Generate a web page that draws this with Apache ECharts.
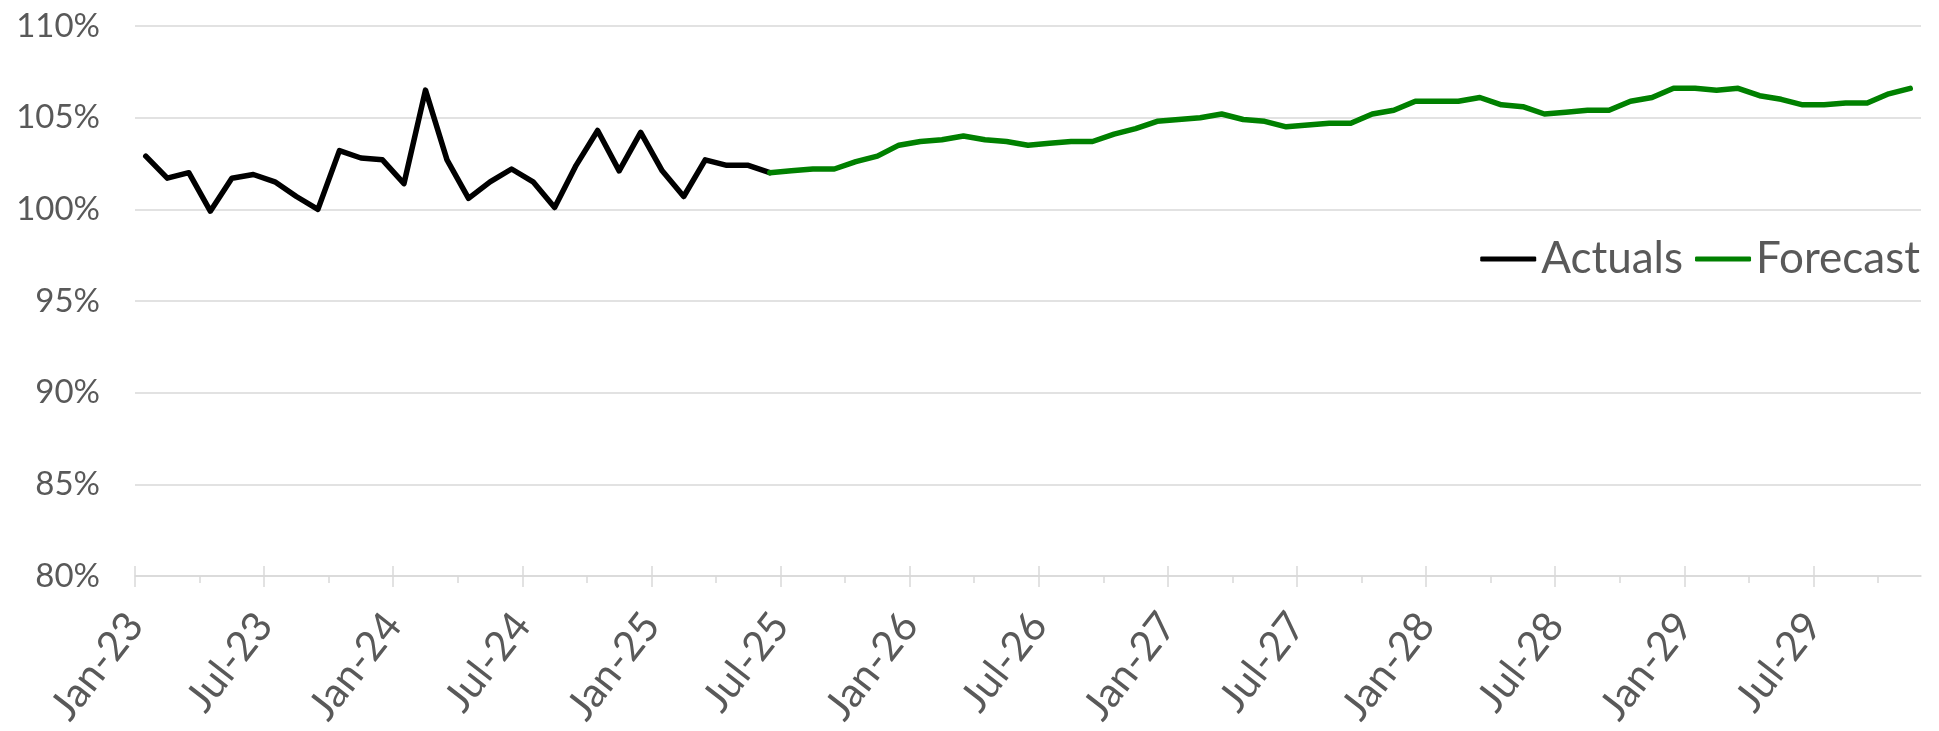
<!DOCTYPE html>
<html>
<head>
<meta charset="utf-8">
<title>Actuals vs Forecast</title>
<script src="https://cdn.jsdelivr.net/npm/echarts@6/dist/echarts.min.js"></script>
<style>
    html, body { margin: 0; padding: 0; background: #fff; }
    #chart { width: 1939px; height: 731px; }
</style>
</head>
<body>
<div id="chart"></div>
<script>
// 月度数据，第一个点是 Jan-23（索引 0），最后一个是 Nov-29（索引 82）
const tickLabels = ['Jan-23', 'Jul-23', 'Jan-24', 'Jul-24', 'Jan-25', 'Jul-25', 'Jan-26',
    'Jul-26', 'Jan-27', 'Jul-27', 'Jan-28', 'Jul-28', 'Jan-29', 'Jul-29'];
const tickMonths = [0, 6, 12, 18, 24, 30, 36, 42, 48, 54, 60, 66, 72, 78];
const minorTickMonths = [3, 9, 15, 21, 27, 33, 39, 45, 51, 57, 63, 69, 75, 81];

// Actuals: Jan-23 .. Jun-25
const actualsStart = 0;
const actuals = [102.9, 101.7, 102.0, 99.9, 101.7, 101.9, 101.5, 100.7, 100.0, 103.2,
    102.8, 102.7, 101.4, 106.5, 102.7, 100.6, 101.5, 102.2, 101.5, 100.1,
    102.4, 104.3, 102.1, 104.2, 102.1, 100.7, 102.7, 102.4, 102.4, 102.0];

// Forecast: Jun-25 .. Nov-29
const forecastStart = 29;
const forecast = [102.0, 102.1, 102.2, 102.2, 102.6, 102.9, 103.5, 103.7, 103.8, 104.0,
    103.8, 103.7, 103.5, 103.6, 103.7, 103.7, 104.1, 104.4, 104.8, 104.9,
    105.0, 105.2, 104.9, 104.8, 104.5, 104.6, 104.7, 104.7, 105.2, 105.4,
    105.9, 105.9, 105.9, 106.1, 105.7, 105.6, 105.2, 105.3, 105.4, 105.4,
    105.9, 106.1, 106.6, 106.6, 106.5, 106.6, 106.2, 106.0, 105.7, 105.7,
    105.8, 105.8, 106.3, 106.6];

const monthCount = 83;
const FONT = 'Lato';
const TEXT_COLOR = '#595959';
const GRID_COLOR = '#d9d9d9';

// 点画在每个月的中间
function toPoints(values, start) {
    return values.map((v, i) => [start + i + 0.5, v]);
}

const chart = echarts.init(document.getElementById('chart'));

const baseX = {
    type: 'value',
    min: 0,
    max: monthCount,
    position: 'bottom',
    offset: 0,
    splitLine: { show: false },
    axisLine: { show: false },
    axisLabel: { show: false },
    axisTick: { show: false }
};

const option = {
    backgroundColor: '#fff',
    animation: false,
    textStyle: { fontFamily: FONT },
    grid: { left: 135, right: 18, top: 26, bottom: 155, outerBoundsMode: 'none' },
    legend: {
        right: 14,
        top: 232,
        itemWidth: 56,
        itemHeight: 5,
        itemGap: 12,
        icon: 'roundRect',
        textStyle: { fontFamily: FONT, fontSize: 44, color: TEXT_COLOR },
        data: ['Actuals', 'Forecast']
    },
    xAxis: [
        {
            ...baseX,
            axisLine: { show: true, lineStyle: { color: GRID_COLOR, width: 1.5 } },
            axisTick: {
                show: true,
                customValues: tickMonths,
                length: 11,
                lineStyle: { color: GRID_COLOR, width: 1.5 }
            },
            axisLabel: {
                show: true,
                customValues: tickMonths,
                rotate: 52,
                margin: 42,
                fontFamily: FONT,
                fontSize: 41,
                color: TEXT_COLOR,
                formatter: value => tickLabels[tickMonths.indexOf(value)] || ''
            }
        },
        {
            ...baseX,
            axisTick: {
                show: true,
                inside: true,
                customValues: tickMonths,
                length: 10,
                lineStyle: { color: GRID_COLOR, width: 1.5 }
            }
        },
        {
            ...baseX,
            axisTick: {
                show: true,
                customValues: minorTickMonths,
                length: 7,
                lineStyle: { color: GRID_COLOR, width: 1.5 }
            }
        }
    ],
    yAxis: {
        type: 'value',
        min: 80,
        max: 110,
        interval: 5,
        axisLine: { show: false },
        axisTick: { show: false },
        axisLabel: {
            fontFamily: FONT,
            fontSize: 33,
            color: TEXT_COLOR,
            margin: 35,
            formatter: '{value}%'
        },
        splitLine: { lineStyle: { color: GRID_COLOR, width: 1.5 } }
    },
    series: [
        {
            name: 'Actuals',
            type: 'line',
            xAxisIndex: 0,
            data: toPoints(actuals, actualsStart),
            showSymbol: false,
            symbol: 'none',
            color: '#000000',
            lineStyle: { color: '#000000', width: 5.5, cap: 'round', join: 'round' }
        },
        {
            name: 'Forecast',
            type: 'line',
            xAxisIndex: 0,
            data: toPoints(forecast, forecastStart),
            showSymbol: false,
            symbol: 'none',
            color: '#008000',
            lineStyle: { color: '#008000', width: 5.5, cap: 'round', join: 'round' }
        }
    ]
};

chart.setOption(option);
</script>
</body>
</html>
